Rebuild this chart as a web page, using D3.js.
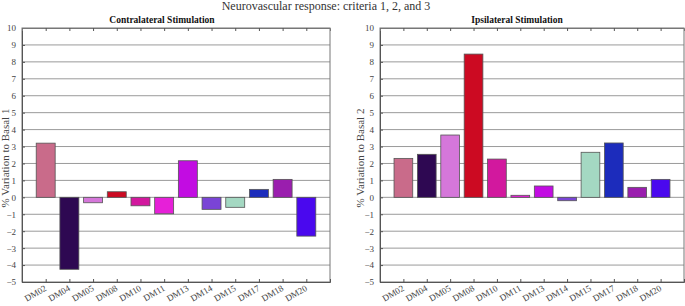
<!DOCTYPE html>
<html>
<head>
<meta charset="utf-8">
<script src="https://cdn.jsdelivr.net/npm/d3@7"></script>
<style>
  body { margin: 0; background: #fff; }
  text { font-family: "Liberation Serif", "Times New Roman", serif; }
</style>
</head>
<body>
<script>
// subjects, same order in both panels
const subjects = ["DM02", "DM04", "DM05", "DM08", "DM10", "DM11", "DM13", "DM14", "DM15", "DM17", "DM18", "DM20"];
const barColors = ["#c96b8a", "#2e0852", "#d577da", "#cc0a22", "#d2189e", "#e620d8", "#c20ce2", "#7a44d6", "#a4d8c2", "#1c2cbc", "#9a1eae", "#4a08ee"];

const contraValues = [3.2, -4.25, -0.32, 0.33, -0.5, -0.97, 2.16, -0.71, -0.59, 0.47, 1.06, -2.29];
const ipsiValues = [2.3, 2.54, 3.68, 8.46, 2.26, 0.12, 0.67, -0.2, 2.66, 3.21, 0.59, 1.06];

const yTicks = [-5, -4, -3, -2, -1, 0, 1, 2, 3, 4, 5, 6, 7, 8, 9, 10];

const width = 685, height = 306;

const svg = d3.select("body").append("svg")
    .attr("width", width)
    .attr("height", height);

svg.append("text")
    .attr("x", 326)
    .attr("y", 10)
    .attr("text-anchor", "middle")
    .attr("font-size", 12)
    .attr("fill", "#333")
    .text("Neurovascular response: criteria 1, 2, and 3");

function drawPanel(left, right, title, titleX, yLabel, labelX, values) {
    const top = 28, bottom = 282;

    const x = d3.scaleLinear().domain([0, subjects.length + 1]).range([left, right]);
    const y = d3.scaleLinear().domain([-5, 10]).range([bottom, top]);
    const step = x(1) - x(0);
    const bw = step * 0.8;

    const g = svg.append("g");

    // horizontal grid
    g.append("g").selectAll("line")
        .data(yTicks.slice(1, -1))
        .join("line")
        .attr("x1", left).attr("x2", right)
        .attr("y1", d => y(d)).attr("y2", d => y(d))
        .attr("stroke", "#9a9a9a")
        .attr("stroke-width", 1);

    // bars
    g.append("g").selectAll("rect")
        .data(values)
        .join("rect")
        .attr("x", (d, i) => x(i + 1) - bw / 2)
        .attr("width", bw)
        .attr("y", d => y(Math.max(0, d)))
        .attr("height", d => Math.abs(y(d) - y(0)))
        .attr("fill", (d, i) => barColors[i])
        .attr("stroke", "#555")
        .attr("stroke-width", 0.8);

    // box
    g.append("rect")
        .attr("x", left).attr("y", top)
        .attr("width", right - left).attr("height", bottom - top)
        .attr("fill", "none")
        .attr("stroke", "#777")
        .attr("stroke-width", 1);

    // y axis
    const yAxis = d3.axisLeft(y).tickValues(yTicks).tickSize(-3).tickPadding(6);
    const ya = g.append("g")
        .attr("transform", "translate(" + left + ",0)")
        .call(yAxis);
    ya.select(".domain").attr("stroke", "#555");
    ya.selectAll(".tick line").attr("stroke", "#555");
    ya.selectAll("text")
        .attr("font-size", 9)
        .attr("fill", "#444");

    // x ticks bottom and top
    const xAxis = d3.axisBottom(x)
        .tickValues(d3.range(1, subjects.length + 1))
        .tickSize(-3)
        .tickFormat(d => subjects[d - 1]);
    const xa = g.append("g")
        .attr("transform", "translate(0," + bottom + ")")
        .call(xAxis);
    xa.select(".domain").attr("stroke", "#555");
    xa.selectAll(".tick line").attr("stroke", "#555");
    xa.selectAll("text")
        .attr("font-size", 9)
        .attr("fill", "#444")
        .attr("text-anchor", "end")
        .attr("y", 0)
        .attr("dy", 0)
        .attr("transform", "translate(1,8) rotate(-30)");

    const xt = g.append("g")
        .attr("transform", "translate(0," + top + ")")
        .call(d3.axisTop(x).tickValues(d3.range(1, subjects.length + 1)).tickSize(-3).tickFormat(""));
    xt.select(".domain").attr("stroke", "#777");
    xt.selectAll(".tick line").attr("stroke", "#555");

    g.append("text")
        .attr("x", titleX)
        .attr("y", 23)
        .attr("text-anchor", "middle")
        .attr("font-size", 9.5)
        .attr("font-weight", "bold")
        .attr("fill", "#111")
        .text(title);

    g.append("text")
        .attr("transform", "translate(" + labelX + ",158) rotate(-90)")
        .attr("text-anchor", "middle")
        .attr("font-size", 11)
        .attr("fill", "#444")
        .text(yLabel);
}

drawPanel(22, 330, "Contralateral Stimulation", 162, "% Variation to Basal 1", 9, contraValues);
drawPanel(380, 684, "Ipsilateral Stimulation", 517, "% Variation to Basal 2", 364, ipsiValues);
</script>
</body>
</html>
